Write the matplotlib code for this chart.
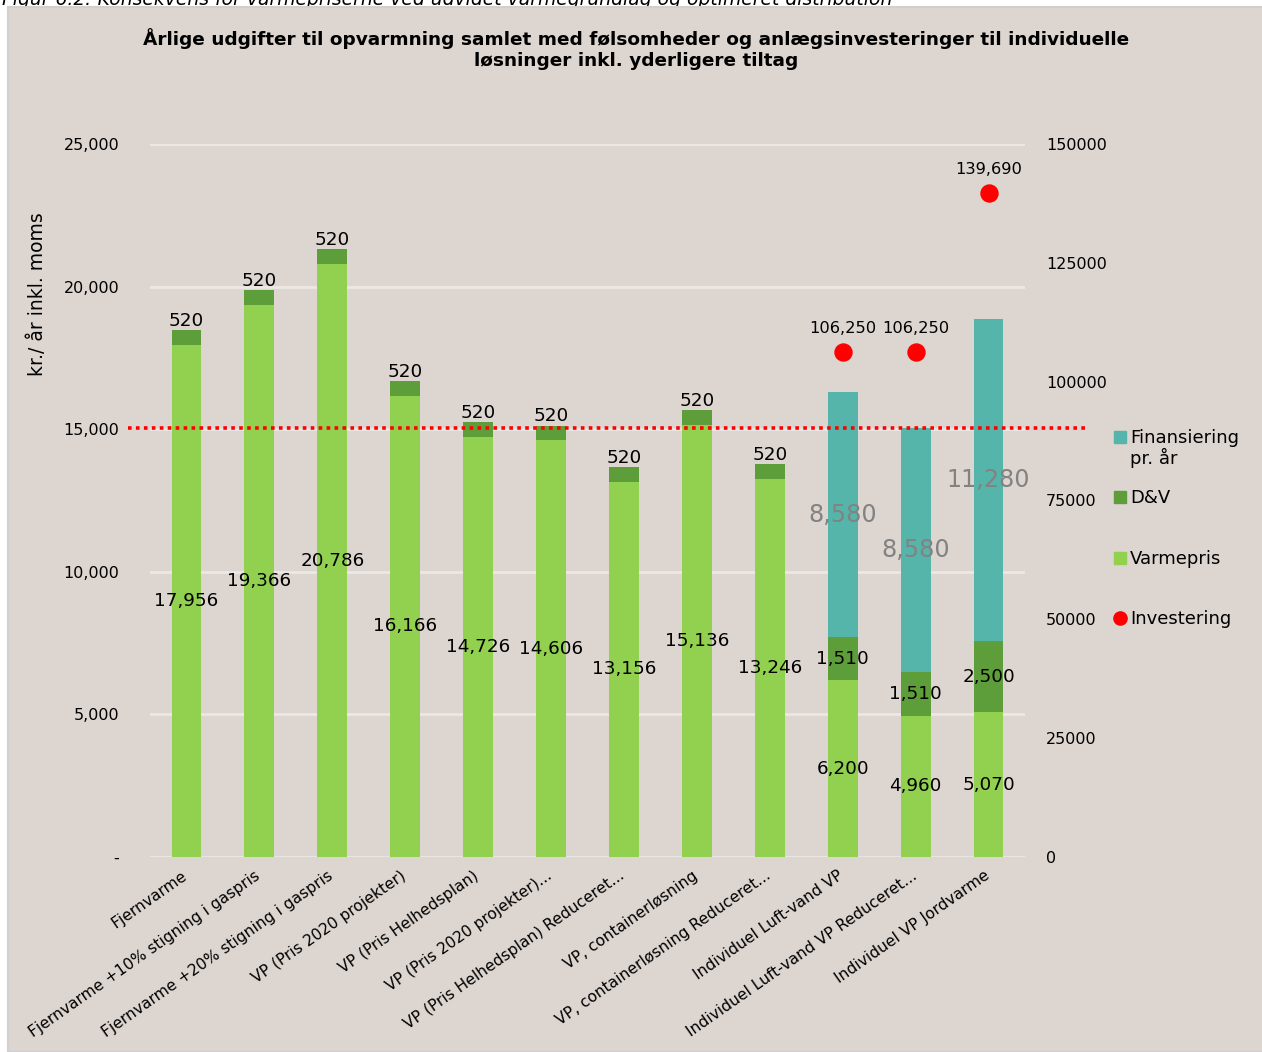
import numpy as np
import matplotlib
matplotlib.use("Agg")
import matplotlib.pyplot as plt
from matplotlib.patches import Rectangle
from matplotlib.lines import Line2D
from matplotlib.ticker import FuncFormatter
from matplotlib.transforms import ScaledTranslation

# data
categories = [
    "Fjernvarme",
    "Fjernvarme +10% stigning i gaspris",
    "Fjernvarme +20% stigning i gaspris",
    "VP (Pris 2020 projekter)",
    "VP (Pris Helhedsplan)",
    "VP (Pris 2020 projekter)...",
    "VP (Pris Helhedsplan) Reduceret...",
    "VP, containerløsning",
    "VP, containerløsning Reduceret...",
    "Individuel Luft-vand VP",
    "Individuel Luft-vand VP Reduceret...",
    "Individuel VP Jordvarme",
]
varmepris = [17956, 19366, 20786, 16166, 14726, 14606, 13156, 15136, 13246, 6200, 4960, 5070]
dv = [520, 520, 520, 520, 520, 520, 520, 520, 520, 1510, 1510, 2500]
finansiering = [0, 0, 0, 0, 0, 0, 0, 0, 0, 8580, 8580, 11280]
investering = [np.nan] * 9 + [106250, 106250, 139690]
reference_level = 15050

c_varme = "#92D050"
c_dv = "#5E9E3A"
c_fin = "#55B5AA"
c_inv = "#FF0000"
panel_bg = "#DCD5D0"

fig = plt.figure(figsize=(12.62, 10.52), dpi=100, facecolor="white")

# caption of the report figure, mostly hidden behind the chart panel
fig.text(2 / 1262, 1 - 5 / 1052,
         "Figur 6.2: Konsekvens for varmepriserne ved udvidet varmegrundlag og optimeret distribution",
         fontsize=13.5, style="italic", va="baseline", ha="left", zorder=-3)
fig.add_artist(Rectangle((8 / 1262, 0), 1, 1 - 7 / 1052, transform=fig.transFigure,
                         facecolor=panel_bg, edgecolor="#D0D0D0", linewidth=1.5, zorder=-2))

ax = fig.add_axes([150 / 1262, 1 - 857 / 1052, 875 / 1262, 713 / 1052])
ax.set_facecolor("none")
x = np.arange(len(categories))
width = 0.41

bottom_dv = np.array(varmepris)
bottom_fin = bottom_dv + np.array(dv)
ax.bar(x, varmepris, width, color=c_varme, zorder=2)
ax.bar(x, dv, width, bottom=bottom_dv, color=c_dv, zorder=2)
ax.bar(x, finansiering, width, bottom=bottom_fin, color=c_fin, zorder=2)

ax.set_xlim(-0.5, len(categories) - 0.5)
ax.set_ylim(0, 25000)
ax.set_yticks(np.arange(0, 25001, 5000))
ax.yaxis.set_major_formatter(FuncFormatter(lambda v, p: "-" if v == 0 else f"{v:,.0f}"))
ax.grid(axis="y", color="#EBE8E5", linewidth=2, zorder=0)
ax.set_axisbelow(True)
for s in ax.spines.values():
    s.set_visible(False)
ax.tick_params(axis="y", length=0, pad=22, labelsize=11.5)
ax.tick_params(axis="x", length=0, pad=8)
ax.set_xticks(x)
ax.set_xticklabels(categories, rotation=35, ha="right", rotation_mode="anchor", fontsize=11.2)
shift = ScaledTranslation(-5 / 100, 0, fig.dpi_scale_trans)
for lbl in ax.get_xticklabels():
    lbl.set_transform(lbl.get_transform() + shift)
ax.set_ylabel("kr./ år inkl. moms", fontsize=13.5)
ax.yaxis.set_label_coords(-0.118, 0.79)

# data labels
for i in x:
    ax.text(i, varmepris[i] / 2, f"{varmepris[i]:,}", ha="center", va="center",
            fontsize=13.2, zorder=4)
    if finansiering[i] == 0:
        ax.text(i, bottom_fin[i] + 10, f"{dv[i]:,}", ha="center", va="bottom",
                fontsize=13.2, zorder=4)
    else:
        ax.text(i, bottom_dv[i] + dv[i] / 2, f"{dv[i]:,}", ha="center", va="center",
                fontsize=13.2, zorder=4)
        ax.text(i, bottom_fin[i] + finansiering[i] / 2, f"{finansiering[i]:,}", ha="center",
                va="center", fontsize=17.2, color="#828282", zorder=4)

# reference line (extends a bit beyond the plot area)
ax.plot([-0.8, 12.32], [reference_level, reference_level], color=c_inv, linewidth=2.6,
        linestyle=(0, (1, 1.2)), clip_on=False, zorder=3)

ax2 = ax.twinx()
ax2.set_ylim(0, 150000)
ax2.set_yticks(np.arange(0, 150001, 25000))
for s in ax2.spines.values():
    s.set_visible(False)
ax2.tick_params(axis="y", length=0, pad=15, labelsize=11.5)
ax2.scatter(x, investering, s=150, color=c_inv, zorder=5)
for i in x:
    if not np.isnan(investering[i]):
        ax2.text(i, investering[i] + 3300, f"{investering[i]:,.0f}", ha="center",
                 va="bottom", fontsize=11.7)

fig.suptitle("Årlige udgifter til opvarmning samlet med følsomheder og anlægsinvesteringer til individuelle\n"
             "løsninger inkl. yderligere tiltag",
             x=636 / 1262, y=1 - 28 / 1052, fontsize=13.3, fontweight="bold", linespacing=1.2)

# legend drawn by hand so the marker lines up with the first text line
legend_items = [("Finansiering\npr. år", c_fin, "s", 437),
                ("D&V", c_dv, "s", 497),
                ("Varmepris", c_varme, "s", 558),
                ("Investering", c_inv, "o", 618)]
for label, color, marker, ypix in legend_items:
    yf = 1 - ypix / 1052
    fig.add_artist(Line2D([1120 / 1262], [yf], marker=marker, color=color, linestyle="none",
                          markersize=8 if marker == "s" else 9.5, transform=fig.transFigure))
    fig.text(1130 / 1262, yf + 8 / 1052, label, fontsize=13, ha="left", va="top",
             linespacing=1.05)

fig.savefig("out.png", dpi=100, facecolor=fig.get_facecolor())
